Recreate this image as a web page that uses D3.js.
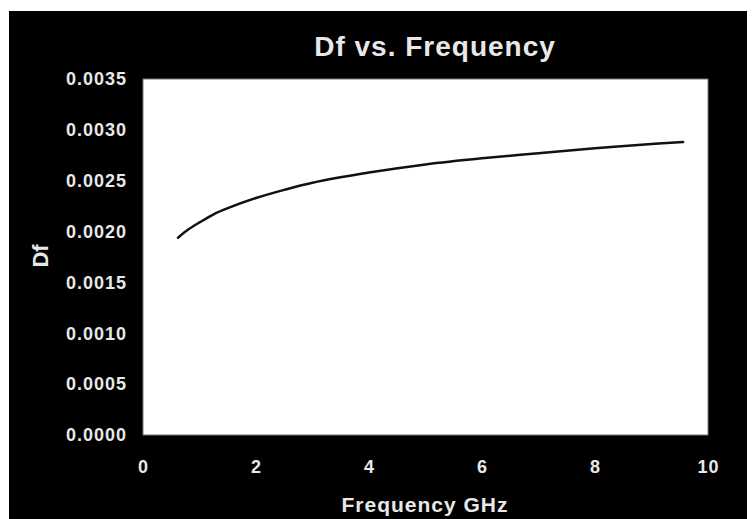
<!DOCTYPE html>
<html>
<head>
<meta charset="utf-8">
<script src="https://cdn.jsdelivr.net/npm/d3@7"></script>
<style>
  body { margin: 0; background: #fff; }
  svg { display: block; }
  .lbl { font-family: "Liberation Sans", Arial, sans-serif; font-weight: bold; fill: #e8e8e8; }
</style>
</head>
<body>
<svg id="chart" width="754" height="519"></svg>
<script>
// values
const freqGHz = [0.62, 0.8, 1, 1.25, 1.5, 2, 2.5, 3, 4, 5, 6, 7, 8, 9, 9.56];
const dfValues = [0.00194, 0.00202, 0.00209, 0.00217, 0.00223, 0.00233, 0.00241, 0.00248,
                  0.00258, 0.00266, 0.00272, 0.00277, 0.00282, 0.00286, 0.00288];
const xTicks = [0, 2, 4, 6, 8, 10];
const yTicks = [0, 0.0005, 0.0010, 0.0015, 0.0020, 0.0025, 0.0030, 0.0035];

const svg = d3.select("#chart");
const plot = { left: 143, right: 708, top: 79, bottom: 435 };

// black frame
svg.append("rect")
	.attr("x", 9).attr("y", 11)
	.attr("width", 738).attr("height", 508)
	.attr("fill", "#000");

const x = d3.scaleLinear().domain([0, 10]).range([plot.left, plot.right]);
const y = d3.scaleLinear().domain([0, 0.0035]).range([plot.bottom, plot.top]);

svg.append("rect")
	.attr("x", plot.left).attr("y", plot.top)
	.attr("width", plot.right - plot.left)
	.attr("height", plot.bottom - plot.top)
	.attr("fill", "#fff")
	.attr("stroke", "#777")
	.attr("stroke-width", 1);

// axes, labels only (no tick marks visible in the original)
const yAxis = svg.append("g")
	.attr("transform", `translate(${plot.left},0)`)
	.call(d3.axisLeft(y).tickValues(yTicks).tickFormat(d3.format(".4f")).tickSize(0).tickPadding(16));
const xAxis = svg.append("g")
	.attr("transform", `translate(0,${plot.bottom})`)
	.call(d3.axisBottom(x).tickValues(xTicks).tickFormat(d3.format("d")).tickSize(0).tickPadding(25));

[yAxis, xAxis].forEach((g) => {
	g.select(".domain").remove();
	g.selectAll("text")
		.attr("class", "lbl")
		.attr("fill", null)
		.style("font-size", "18px")
		.style("letter-spacing", "1px");
});

// the curve
const line = d3.line()
	.x((d, i) => x(freqGHz[i]))
	.y((d) => y(d))
	.curve(d3.curveCatmullRom.alpha(0.5));

svg.append("path")
	.datum(dfValues)
	.attr("d", line)
	.attr("fill", "none")
	.attr("stroke", "#111")
	.attr("stroke-width", 2.5)
	.attr("stroke-linecap", "round");

// titles
svg.append("text")
	.attr("class", "lbl")
	.attr("x", 435).attr("y", 56)
	.attr("text-anchor", "middle")
	.style("font-size", "28px")
	.style("letter-spacing", "1px")
	.text("Df vs. Frequency");

svg.append("text")
	.attr("class", "lbl")
	.attr("x", 425).attr("y", 512)
	.attr("text-anchor", "middle")
	.style("font-size", "21px")
	.style("letter-spacing", "1px")
	.text("Frequency GHz");

svg.append("text")
	.attr("class", "lbl")
	.attr("transform", "translate(48,256) rotate(-90)")
	.attr("text-anchor", "middle")
	.style("font-size", "22px")
	.text("Df");
</script>
</body>
</html>
